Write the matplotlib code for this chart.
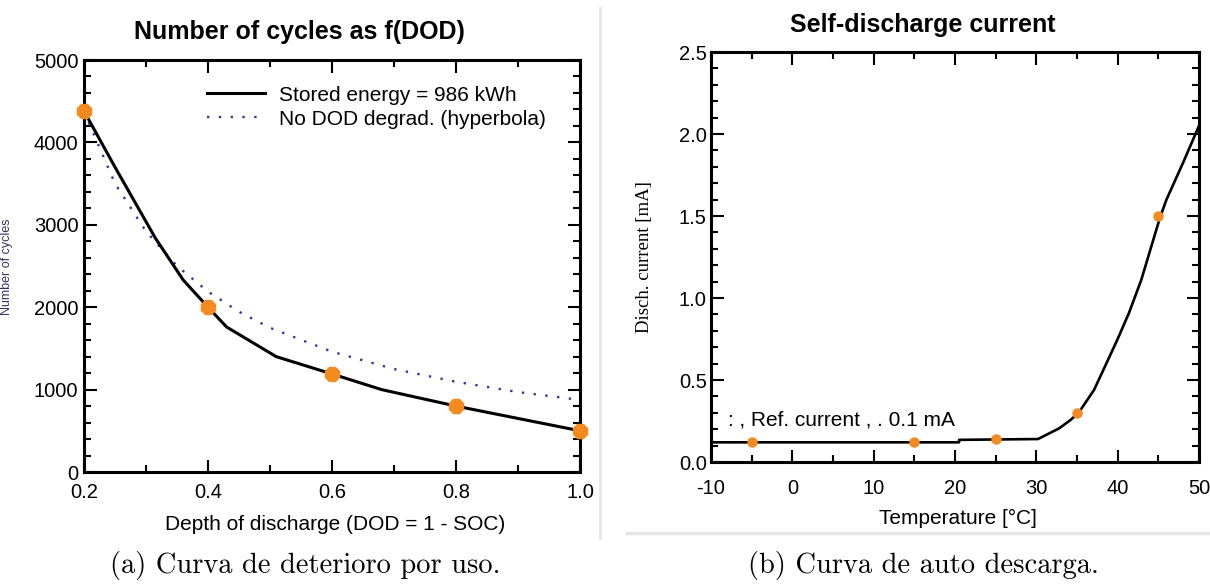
import matplotlib
matplotlib.use('Agg')
import matplotlib.pyplot as plt
from matplotlib.lines import Line2D
from matplotlib.ticker import MultipleLocator

plt.rcParams['font.family'] = ['Liberation Sans', 'DejaVu Sans']

# Left chart: cycles vs depth of discharge
dodMarkers = [0.2, 0.4, 0.6, 0.8, 1.0]
cyclesMarkers = [4380, 2000, 1190, 800, 500]
dodCurve = [0.2, 0.25, 0.315, 0.36, 0.4, 0.43, 0.51, 0.6, 0.68, 0.8, 0.9, 1.0]
cyclesCurve = [4380, 3700, 2840, 2330, 2000, 1760, 1400, 1190, 1000, 800, 650, 500]
dodHyperbola = [0.2, 0.25, 0.3, 0.35, 0.4, 0.45, 0.5, 0.6, 0.7, 0.8, 0.9, 1.0]
cyclesHyperbola = [4375, 3500, 2920, 2500, 2190, 1945, 1750, 1460, 1250, 1095, 970, 875]

# Right chart: self-discharge current vs temperature
tempMarkers = [-5, 15, 25, 35, 45]
currentMarkers = [0.12, 0.12, 0.14, 0.30, 1.50]
tempCurve = [-10, 20.5, 20.5, 30.2, 32.8, 34.2, 35.2, 37.1, 38.6, 40, 41.4, 42.9, 45.2, 46.0, 48, 50]
currentCurve = [0.12, 0.12, 0.135, 0.14, 0.205, 0.256, 0.30, 0.44, 0.60, 0.75, 0.91, 1.11, 1.49, 1.60, 1.82, 2.05]

orangeColor = '#f58a1f'
W, H = 1210, 586

fig = plt.figure(figsize=(12.1, 5.86), dpi=100)

def px(x, y):
    return x / W, 1 - y / H

def style_axes(ax):
    for s in ax.spines.values():
        s.set_linewidth(2.2)
    ax.tick_params(which='both', direction='in', top=True, right=True, width=1.5, labelsize=14.5, colors='black')
    ax.tick_params(which='major', length=9)
    ax.tick_params(which='minor', length=5)

# ----- left panel -----
axLeft = fig.add_axes([84 / W, (H - 472) / H, 496 / W, 412 / H])
axLeft.plot(dodCurve, cyclesCurve, color='black', lw=2.2, label='Stored energy = 986 kWh', zorder=3)
axLeft.plot(dodHyperbola, cyclesHyperbola, color='#3535a5', lw=1.7, linestyle=(0, (1, 4)),
            label='No DOD degrad. (hyperbola)', zorder=2)
axLeft.plot(dodMarkers, cyclesMarkers, linestyle='none', marker='8', ms=11, color=orangeColor,
            zorder=4, clip_on=False)
axLeft.set_xlim(0.2, 1.0)
axLeft.set_ylim(0, 5000)
axLeft.xaxis.set_major_locator(MultipleLocator(0.2))
axLeft.xaxis.set_minor_locator(MultipleLocator(0.1))
axLeft.yaxis.set_major_locator(MultipleLocator(1000))
axLeft.yaxis.set_minor_locator(MultipleLocator(200))
axLeft.set_xticks([0.2, 0.4, 0.6, 0.8, 1.0])
axLeft.set_xticklabels(['0.2', '0.4', '0.6', '0.8', '1.0'])
style_axes(axLeft)
axLeft.tick_params(axis='x', pad=8)
axLeft.tick_params(axis='y', pad=4)
axLeft.legend(loc='upper left', bbox_to_anchor=(0.247, 0.938), frameon=False, fontsize=15,
              handlelength=2.8, handletextpad=0.7, labelspacing=0.25, borderpad=0, borderaxespad=0)
axLeft.text(0.435, 1.069, 'Number of cycles as f(DOD)', transform=axLeft.transAxes,
            ha='center', va='center', fontsize=18, fontweight='bold')
fig.text(*px(335, 525), 'Depth of discharge (DOD = 1 - SOC)', ha='center', va='center', fontsize=15)
fig.text(*px(7, 267), 'Number of cycles', ha='center', va='center', rotation=90, fontsize=9,
         color='#333366')

# ----- right panel -----
axRight = fig.add_axes([711 / W, (H - 462) / H, 488 / W, 410 / H])
axRight.plot(tempCurve, currentCurve, color='black', lw=1.9, zorder=3)
axRight.plot(tempMarkers, currentMarkers, linestyle='none', marker='o', ms=6.5, color=orangeColor, zorder=4)
axRight.set_xlim(-10, 50)
axRight.set_ylim(0, 2.5)
axRight.xaxis.set_major_locator(MultipleLocator(10))
axRight.xaxis.set_minor_locator(MultipleLocator(5))
axRight.yaxis.set_major_locator(MultipleLocator(0.5))
axRight.yaxis.set_minor_locator(MultipleLocator(0.1))
axRight.set_yticks([0, 0.5, 1.0, 1.5, 2.0, 2.5])
axRight.set_yticklabels(['0.0', '0.5', '1.0', '1.5', '2.0', '2.5'])
axRight.set_xticks([-10, 0, 10, 20, 30, 40, 50])
axRight.set_xticklabels(['-10', '0', '10', '20', '30', '40', '50'])
style_axes(axRight)
axRight.tick_params(axis='x', pad=12)
axRight.tick_params(axis='y', pad=3)
axRight.text(-7.9, 0.256, ': , Ref. current , . 0.1 mA', ha='left', va='center', fontsize=15)
axRight.text(0.434, 1.066, 'Self-discharge current', transform=axRight.transAxes,
             ha='center', va='center', fontsize=18, fontweight='bold')
fig.text(*px(958, 518), 'Temperature [°C]', ha='center', va='center', fontsize=15)
fig.text(*px(645, 257), 'Disch. current [mA]', ha='center', va='center', rotation=90,
         fontsize=13.5, family='Liberation Serif')

# screenshot border of the right picture
fig.add_artist(Line2D([600 / W, 600 / W], [1 - 8 / H, 1 - 538 / H], color='#e6e6e6', lw=2))
fig.add_artist(Line2D([627 / W, 1.0], [1 - 533 / H, 1 - 533 / H], color='#e6e6e6', lw=2.5))

# captions
fig.text(*px(305, 565), '(a) Curva de deterioro por uso.', ha='center', va='center', fontsize=20.5, family='cmr10')
fig.text(*px(923, 565), '(b) Curva de auto descarga.', ha='center', va='center', fontsize=20.5, family='cmr10')

fig.savefig('out.png', dpi=100)
